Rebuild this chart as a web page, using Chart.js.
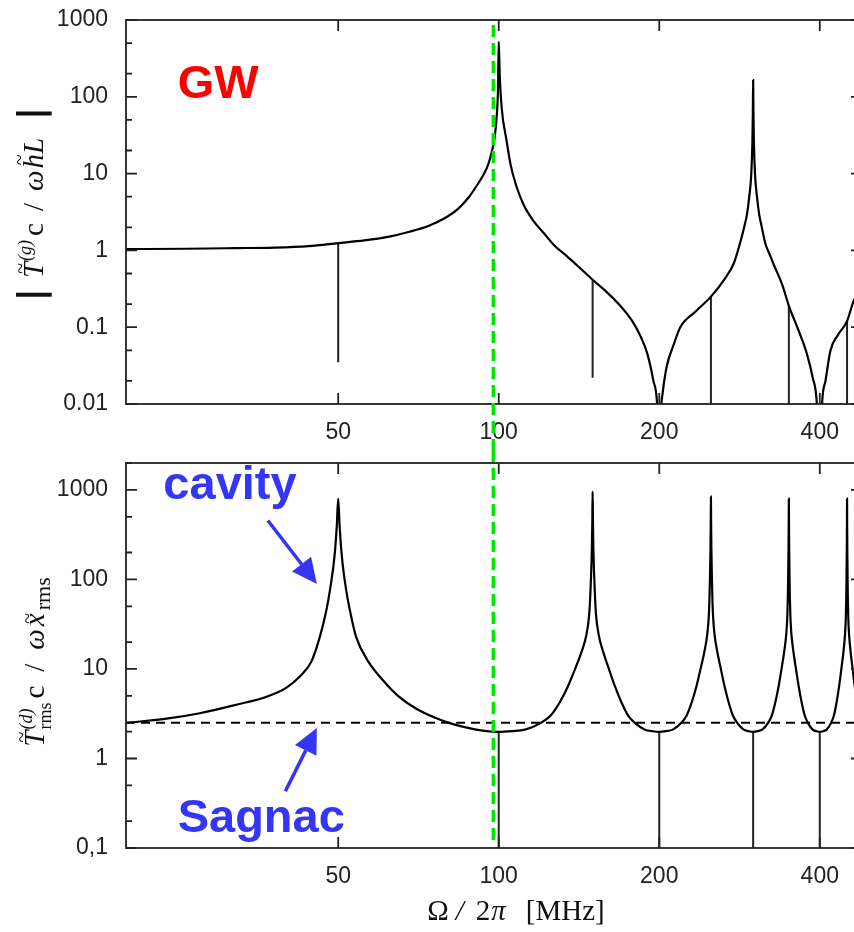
<!DOCTYPE html>
<html>
<head>
<meta charset="utf-8">
<script src="https://cdn.jsdelivr.net/npm/chart.js@4.4.1/dist/chart.umd.min.js"></script>
<style>
  html, body { margin: 0; padding: 0; background: #fff; overflow: hidden; width: 854px; height: 932px; }
  canvas { position: absolute; left: 0; }
  #gwChart { top: 0; }
  #dispChart { top: 450px; }
</style>
</head>
<body>
<canvas id="gwChart" width="880" height="450"></canvas>
<canvas id="dispChart" width="880" height="482"></canvas>
<script>
// x axis (MHz, log)
const freqTicks = [50, 100, 200, 400];
const freqMin = 20;
const freqMax = 480;

// top panel: |T(g) c / w h L|
const gwTicks = [0.01, 0.1, 1, 10, 100, 1000];
const gwTickLabels = ['0.01', '0.1', '1', '10', '100', '1000'];
const gwFreq = [20, 26, 32, 38, 44, 50, 56, 62, 68, 74, 79, 84, 88, 91, 93.5, 95.5, 97, 98.3, 99.2, 99.7, 100,
  100.43, 101.3, 103.4, 105.3, 107.9, 111.4, 115.8, 122, 127, 134.5, 142, 150, 160, 169, 178, 184.5, 190, 195,
  198.5, 200, 201.5, 203, 206.6, 213, 219, 234, 250, 265, 276, 284, 289, 292, 295, 297.5, 299, 299.6, 300, 300.4,
  301, 302.5, 305, 308, 311, 316, 323, 328, 340, 350, 364, 378, 388, 395, 400, 404, 410, 419, 433, 450, 463, 480];
const gwResp = [1.04, 1.05, 1.07, 1.09, 1.14, 1.245, 1.35, 1.5, 1.75, 2.1, 2.6, 3.5, 5, 7, 9.5, 13, 19, 30, 60, 130, 520,
  192, 71, 27.4, 12.9, 6.9, 3.9, 2.5, 1.62, 1.17, 0.83, 0.59, 0.415, 0.28, 0.19, 0.12, 0.076, 0.045, 0.02,
  0.008, 0.001, 0.008, 0.014, 0.031, 0.06, 0.10, 0.16, 0.25, 0.42, 0.68, 1.3, 2.1, 2.9, 5, 9.5, 25, 60, 165, 60,
  25, 9.5, 5, 2.9, 2.1, 1.25, 0.85, 0.65, 0.36, 0.19, 0.095, 0.046, 0.022, 0.01, 0.001, 0.01, 0.02, 0.05, 0.08, 0.12, 0.22, 0.36];
// narrow numerical spikes hanging down from the top curve
const gwSpikeFreq = [50, 150, 250, 350, 450];
const gwSpikeTop = [1.245, 0.415, 0.25, 0.19, 0.12];
const gwSpikeLow = [0.035, 0.022, 0.001, 0.001, 0.001];

// bottom panel: T(d)rms c / w x rms
const dispTicks = [0.1, 1, 10, 100, 1000];
const dispTickLabels = ['0,1', '1', '10', '100', '1000'];
const dispFreq = [20, 24, 27.5, 32, 36.7, 40, 42.4, 44.5, 46.2, 47.5, 48.3, 49.2, 49.7, 50, 50.3, 50.8, 51.7, 52.6, 54, 57, 61, 65,
  70.3, 76, 81.5, 88, 94, 100,
  106, 112, 120, 125, 130, 135, 139.5, 143, 146, 147.7, 148.4, 149, 149.5, 149.8, 150,
  150.2, 150.5, 151, 151.6, 152.3, 154, 157, 160.5, 165, 170, 175, 180, 188, 194, 200,
  206, 212, 220, 225, 230, 235, 239.5, 243, 246, 247.7, 248.4, 249, 249.5, 249.8, 250,
  250.2, 250.5, 251, 251.6, 252.3, 254, 257, 260.5, 265, 270, 275, 280, 288, 294, 300,
  306, 312, 320, 325, 330, 335, 339.5, 343, 346, 347.7, 348.4, 349, 349.5, 349.8, 350,
  350.2, 350.5, 351, 351.6, 352.3, 354, 357, 360.5, 365, 370, 375, 380, 388, 394, 400,
  406, 412, 420, 425, 430, 435, 439.5, 443, 446, 447.7, 448.4, 449, 449.5, 449.8, 450,
  450.2, 450.5, 451, 451.6, 452.3, 454, 457, 460.5, 465, 470, 475, 480];
const dispResp = [2.5, 2.8, 3.2, 3.95, 4.9, 6.2, 8.3, 12, 23, 45, 79, 180, 400, 800, 400, 180, 79, 45, 23, 12, 7.2, 4.9,
  3.55, 2.85, 2.45, 2.18, 2.03, 1.98,
  2.02, 2.1, 2.5, 3.0, 4.2, 6.5, 10.5, 15.5, 24, 39, 61, 110, 220, 450, 960,
  450, 220, 110, 61, 39, 24, 15.5, 10.5, 6.5, 4.2, 3.0, 2.5, 2.1, 2.02, 1.98,
  2.02, 2.1, 2.5, 3.0, 4.2, 6.5, 10.5, 15.5, 24, 39, 61, 110, 220, 420, 840,
  420, 220, 110, 61, 39, 24, 15.5, 10.5, 6.5, 4.2, 3.0, 2.5, 2.1, 2.02, 1.98,
  2.02, 2.1, 2.5, 3.0, 4.2, 6.5, 10.5, 15.5, 24, 39, 61, 110, 220, 400, 800,
  400, 220, 110, 61, 39, 24, 15.5, 10.5, 6.5, 4.2, 3.0, 2.5, 2.1, 2.02, 1.98,
  2.02, 2.1, 2.5, 3.0, 4.2, 6.5, 10.5, 15.5, 24, 39, 61, 110, 220, 400, 800,
  400, 220, 110, 61, 39, 24, 15.5, 10.5, 6.5, 4.2, 3.0, 2.5];
const dispSpikeFreq = [100, 200, 300, 400];
const dispSpikeTop = [1.98, 1.98, 1.98, 1.98];
const dispSpikeLow = [0.01, 0.01, 0.01, 0.01];

// Sagnac level (dashed) and the green marker frequency
const sagnacFreq = [20, 480];
const sagnacLevel = [2.5, 2.5];
const markerFreq = 97.7;

const SANS = "'Liberation Sans', Arial, sans-serif";
const SERIF = "'Liberation Serif', 'Times New Roman', serif";
const BAR = "'DejaVu Sans', sans-serif";
const BLUE = '#3535f8';

function pts(xs, ys) {
    return xs.map((x, i) => ({ x: x, y: ys[i] }));
}

// vertical segments, separated by gaps
function spikePts(xs, tops, lows) {
    const out = [];
    xs.forEach((x, i) => {
        out.push({ x: x, y: tops[i] }, { x: x, y: lows[i] }, { x: x, y: null });
    });
    return out;
}

// box with inward ticks on all four sides (gnuplot style)
const framePlugin = {
    id: 'frame',
    afterDatasetsDraw(chart) {
        const { ctx, chartArea: a, scales: { x, y } } = chart;
        ctx.save();
        ctx.strokeStyle = '#222';
        ctx.lineWidth = 1.8;
        ctx.strokeRect(a.left, a.top, a.right - a.left, a.bottom - a.top);
        ctx.beginPath();
        freqTicks.forEach(v => {
            const px = x.getPixelForValue(v);
            ctx.moveTo(px, a.bottom); ctx.lineTo(px, a.bottom - 11);
            ctx.moveTo(px, a.top); ctx.lineTo(px, a.top + 11);
        });
        const lo = Math.floor(Math.log10(y.min)), hi = Math.ceil(Math.log10(y.max));
        for (let e = lo; e <= hi; e++) {
            [1, 2, 5].forEach(m => {
                const v = m * Math.pow(10, e);
                if (v < y.min * 0.999 || v > y.max * 1.001) return;
                const len = m === 1 ? 11 : 6;
                const py = y.getPixelForValue(v);
                ctx.moveTo(a.left, py); ctx.lineTo(a.left + len, py);
                ctx.moveTo(a.right, py); ctx.lineTo(a.right - len, py);
            });
        }
        ctx.stroke();
        ctx.restore();
    }
};

// text with sub/superscripts and tildes, drawn along the current x direction
function mathFont(p) {
    return (p.italic ? 'italic ' : '') + (p.bold ? 'bold ' : '') + p.size + 'px ' + (p.family || SERIF);
}
function layoutMath(ctx, parts) {
    let cur = 0, start = 0;
    return parts.map(p => {
        ctx.font = mathFont(p);
        const w = ctx.measureText(p.t).width;
        const s = p.stack ? start : cur;
        start = s;
        cur = Math.max(cur, s + w + (p.gap || 0));
        return { p: p, s: s, w: w, end: cur };
    });
}
function drawMath(ctx, parts, x0, base, centred) {
    const lay = layoutMath(ctx, parts);
    const total = lay.length ? lay[lay.length - 1].end : 0;
    const off = centred ? x0 - total / 2 : x0;
    ctx.textBaseline = 'alphabetic';
    ctx.textAlign = 'left';
    lay.forEach(({ p, s, w }) => {
        ctx.font = mathFont(p);
        ctx.fillText(p.t, off + s, base + (p.dy || 0));
        if (p.tilde) {
            ctx.font = Math.round(p.size * 0.7) + 'px ' + SERIF;
            ctx.textAlign = 'center';
            ctx.fillText('~', off + s + w * 0.6, base - p.size * p.tilde);
            ctx.textAlign = 'left';
        }
    });
}

function yTitlePlugin(parts, cx, cy) {
    return {
        id: 'ytitle',
        afterDraw(chart) {
            const ctx = chart.ctx;
            ctx.save();
            ctx.fillStyle = '#111';
            ctx.translate(cx, cy);
            ctx.rotate(-Math.PI / 2);
            drawMath(ctx, parts, 0, 0, true);
            ctx.restore();
        }
    };
}

function xTitlePlugin(parts, cx, base) {
    return {
        id: 'xtitle',
        afterDraw(chart) {
            const ctx = chart.ctx;
            ctx.save();
            ctx.fillStyle = '#111';
            drawMath(ctx, parts, cx, base, true);
            ctx.restore();
        }
    };
}

// dashed green marker; runs past the plot edge so both canvases join up
function markerPlugin(fromTop, toBottom) {
    return {
        id: 'marker',
        afterDraw(chart) {
            const { ctx, chartArea: a, scales: { x } } = chart;
            const px = x.getPixelForValue(markerFreq);
            ctx.save();
            ctx.strokeStyle = '#00e600';
            ctx.lineWidth = 3.5;
            ctx.setLineDash([12, 6]);
            ctx.beginPath();
            ctx.moveTo(px, fromTop === null ? a.top + 5 : fromTop);
            ctx.lineTo(px, toBottom === null ? a.bottom - 8 : toBottom);
            ctx.stroke();
            ctx.restore();
        }
    };
}

function notesPlugin(texts, arrows) {
    return {
        id: 'notes',
        afterDraw(chart) {
            const { ctx, scales: { x, y } } = chart;
            ctx.save();
            texts.forEach(n => {
                ctx.font = 'bold 47px ' + SANS;
                ctx.fillStyle = n.color;
                ctx.textAlign = 'left';
                ctx.textBaseline = 'alphabetic';
                ctx.fillText(n.t, x.getPixelForValue(n.at[0]), y.getPixelForValue(n.at[1]));
            });
            arrows.forEach(ar => {
                const x0 = x.getPixelForValue(ar.from[0]), y0 = y.getPixelForValue(ar.from[1]);
                const x1 = x.getPixelForValue(ar.to[0]), y1 = y.getPixelForValue(ar.to[1]);
                const ang = Math.atan2(y1 - y0, x1 - x0);
                const hl = 25, hw = 12;
                const bx = x1 - hl * Math.cos(ang), by = y1 - hl * Math.sin(ang);
                ctx.strokeStyle = BLUE;
                ctx.fillStyle = BLUE;
                ctx.lineWidth = 3.5;
                ctx.beginPath();
                ctx.moveTo(x0, y0);
                ctx.lineTo(bx, by);
                ctx.stroke();
                ctx.beginPath();
                ctx.moveTo(x1, y1);
                ctx.lineTo(bx + hw * Math.sin(ang), by - hw * Math.cos(ang));
                ctx.lineTo(bx - hw * Math.sin(ang), by + hw * Math.cos(ang));
                ctx.closePath();
                ctx.fill();
            });
            ctx.restore();
        }
    };
}

function buildChart(canvasId, cfg) {
    return new Chart(document.getElementById(canvasId), {
        type: 'line',
        data: { datasets: cfg.datasets },
        options: {
            responsive: false,
            animation: false,
            layout: { padding: { top: cfg.padTop, right: 18, left: 0, bottom: 0 } },
            plugins: { legend: { display: false }, tooltip: { enabled: false } },
            elements: { point: { radius: 0 }, line: { tension: 0 } },
            scales: {
                x: {
                    type: 'logarithmic', min: freqMin, max: freqMax,
                    grid: { display: false, drawTicks: false },
                    border: { display: false },
                    afterBuildTicks: s => { s.ticks = freqTicks.map(v => ({ value: v })); },
                    ticks: {
                        autoSkip: false, maxRotation: 0, padding: 15, color: '#222',
                        font: { family: SANS, size: 23 },
                        callback: v => String(v)
                    },
                    afterFit: s => {
                        s.height = cfg.xHeight;
                        s.paddingLeft = 0; s.paddingRight = 0;
                    }
                },
                y: {
                    type: 'logarithmic', min: cfg.yMin, max: cfg.yMax,
                    grid: { display: false, drawTicks: false },
                    border: { display: false },
                    afterBuildTicks: s => { s.ticks = cfg.yTicks.map(v => ({ value: v })); },
                    ticks: {
                        autoSkip: false, padding: 18, color: '#222',
                        font: { family: SANS, size: 23 },
                        callback: (v, i) => cfg.yLabels[i]
                    },
                    afterFit: s => {
                        s.width = 126;
                        s.paddingTop = 0; s.paddingBottom = 0;
                    }
                }
            }
        },
        plugins: [framePlugin].concat(cfg.plugins)
    });
}

const gwTitle = [
    { t: '|', size: 36, bold: true, family: BAR, gap: 10 },
    { t: 'T', size: 29, italic: true, tilde: 0.56, gap: 1 },
    { t: '(g)', size: 18, italic: true, dy: -12, gap: 4 },
    { t: 'c', size: 29, gap: 12 },
    { t: '/', size: 29, gap: 12 },
    { t: 'ω', size: 29, italic: true, gap: 2 },
    { t: 'h', size: 29, italic: true, tilde: 0.58 },
    { t: 'L', size: 29, italic: true, gap: 18 },
    { t: '|', size: 36, bold: true, family: BAR }
];

const dispTitle = [
    { t: 'T', size: 29, italic: true, tilde: 0.56, gap: 1 },
    { t: '(d)', size: 18, italic: true, dy: -12 },
    { t: 'rms', size: 18, dy: 7, stack: true, gap: 4 },
    { t: 'c', size: 29, gap: 14 },
    { t: '/', size: 29, gap: 14 },
    { t: 'ω', size: 29, italic: true, gap: 3 },
    { t: 'x', size: 29, italic: true, tilde: 0.36, gap: 3 },
    { t: 'rms', size: 22, dy: 6 }
];

const freqTitle = [
    { t: 'Ω', size: 29, gap: 7 },
    { t: '/', size: 29, italic: true, gap: 12 },
    { t: '2', size: 29, gap: 1 },
    { t: 'π', size: 29, italic: true, gap: 20 },
    { t: '[MHz]', size: 29 }
];

buildChart('gwChart', {
    padTop: 20, xHeight: 46,
    yMin: 0.01, yMax: 1000, yTicks: gwTicks, yLabels: gwTickLabels,
    datasets: [{
        data: pts(gwFreq, gwResp),
        borderColor: '#000', borderWidth: 2.2, cubicInterpolationMode: 'monotone'
    }, {
        data: spikePts(gwSpikeFreq, gwSpikeTop, gwSpikeLow),
        borderColor: '#222', borderWidth: 2, spanGaps: false
    }],
    plugins: [
        yTitlePlugin(gwTitle, 43, 204),
        markerPlugin(null, 450),
        notesPlugin([{ t: 'GW', at: [25, 96], color: '#ff0000' }], [])
    ]
});

buildChart('dispChart', {
    padTop: 13, xHeight: 84,
    yMin: 0.1, yMax: 2000, yTicks: dispTicks, yLabels: dispTickLabels,
    datasets: [{
        data: pts(dispFreq, dispResp),
        borderColor: '#000', borderWidth: 2.2, cubicInterpolationMode: 'monotone'
    }, {
        data: spikePts(dispSpikeFreq, dispSpikeTop, dispSpikeLow),
        borderColor: '#222', borderWidth: 2, spanGaps: false
    }, {
        data: pts(sagnacFreq, sagnacLevel),
        borderColor: '#000', borderWidth: 2, borderDash: [9, 6]
    }],
    plugins: [
        yTitlePlugin(dispTitle, 44, 212),
        xTitlePlugin(freqTitle, 516, 470),
        markerPlugin(0, null),
        notesPlugin(
            [{ t: 'cavity', at: [23.5, 783], color: BLUE }, { t: 'Sagnac', at: [25, 0.152], color: BLUE }],
            [{ from: [36.9, 456], to: [45.6, 89] }, { from: [39.8, 0.43], to: [45.6, 2.19] }]
        )
    ]
});
</script>
</body>
</html>
